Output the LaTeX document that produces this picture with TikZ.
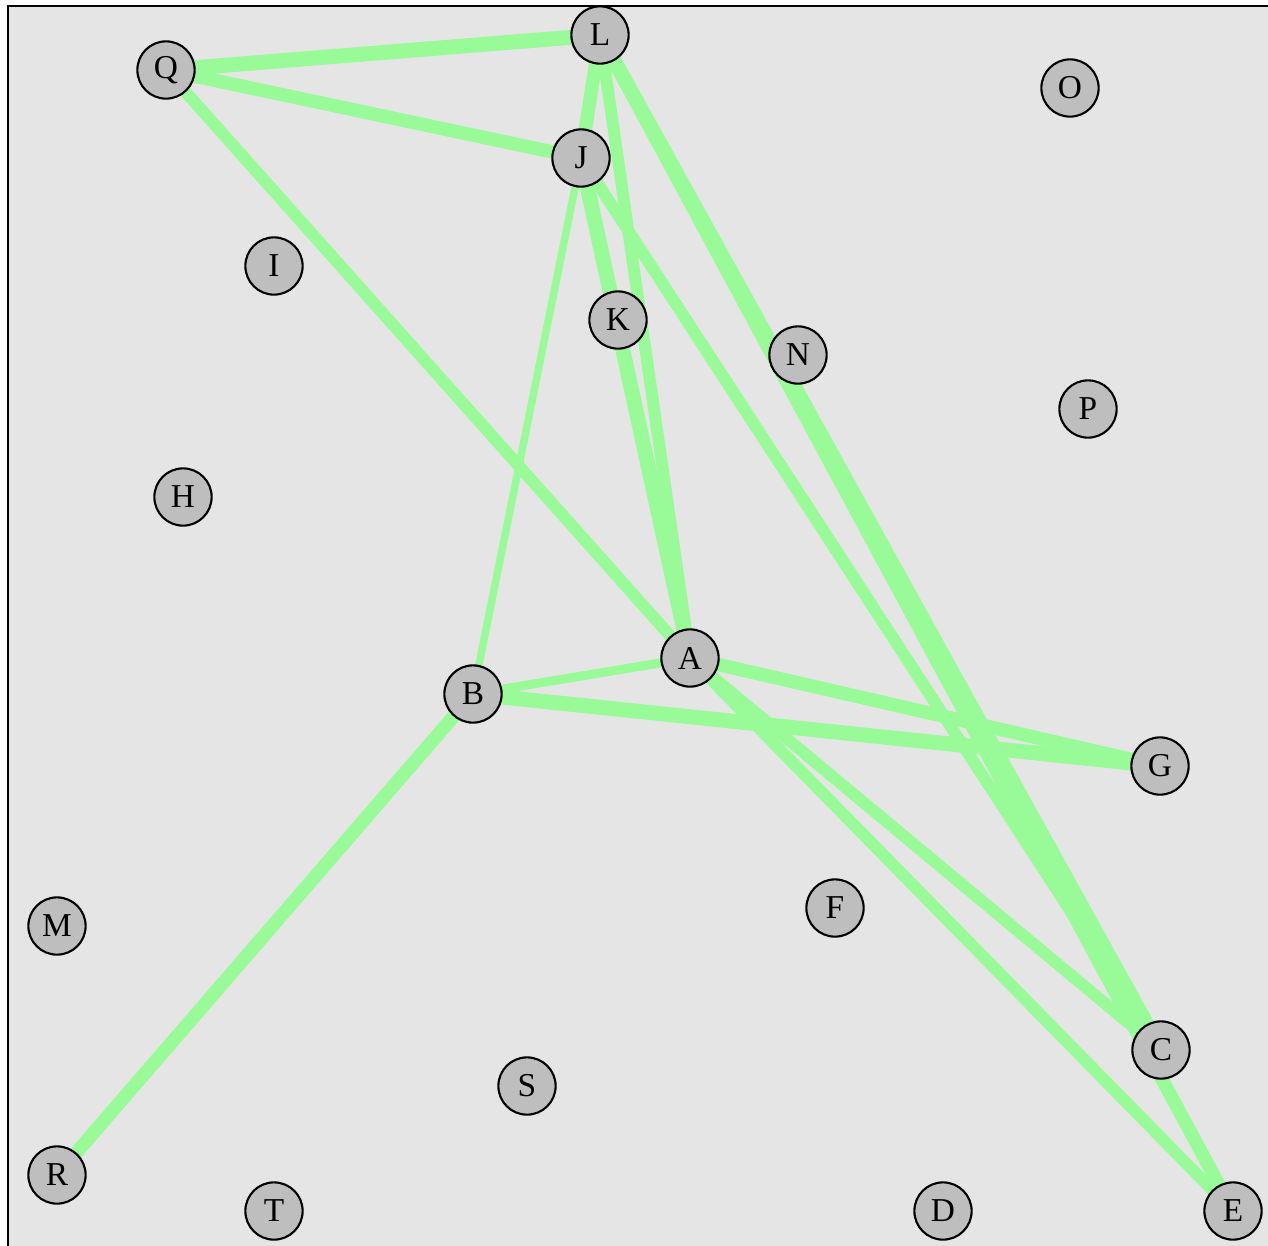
\documentclass[tikz,border=0pt]{standalone}
\usepackage{fontspec}
\setmainfont{Liberation Serif}
\definecolor{bgc}{HTML}{E5E5E5}
\definecolor{edgec}{HTML}{98FB98}
\definecolor{nodec}{HTML}{BEBEBE}
\pgfdeclarelayer{bg}
\pgfdeclarelayer{edges}
\pgfsetlayers{bg,edges,main}
\begin{document}
\begin{tikzpicture}[x=0.02cm,y=-0.02cm,
  vtx/.style={circle,draw=black,line width=1.2pt,fill=nodec,minimum size=32.6pt,inner sep=0pt,font=\fontsize{19pt}{21pt}\selectfont},
  lnk/.style={draw=edgec,line width=#1*0.85pt},
  lnk/.default=8]
\useasboundingbox (0,0) rectangle (1268,1245);
\begin{pgfonlayer}{bg}
\begin{scope}
\clip (0,0) rectangle (1268,1245);
\filldraw[fill=bgc,draw=black,line width=1.3pt] (8,6) rectangle (1290,1270);
\end{scope}
\end{pgfonlayer}
% nodes
\node[vtx] (Q) at (166,70) {Q};
\node[vtx] (L) at (600,35) {L};
\node[vtx] (O) at (1070,88) {O};
\node[vtx] (J) at (581,158) {J};
\node[vtx] (I) at (274,266) {I};
\node[vtx] (K) at (618,320) {K};
\node[vtx] (N) at (798,355) {N};
\node[vtx] (P) at (1088,409) {P};
\node[vtx] (H) at (183,497) {H};
\node[vtx] (A) at (690,658) {A};
\node[vtx] (B) at (473,694) {B};
\node[vtx] (G) at (1160,766) {G};
\node[vtx] (M) at (57,926) {M};
\node[vtx] (F) at (835,908) {F};
\node[vtx] (C) at (1161,1050) {C};
\node[vtx] (S) at (527,1086) {S};
\node[vtx] (R) at (57,1175) {R};
\node[vtx] (T) at (274,1211) {T};
\node[vtx] (D) at (943,1211) {D};
\node[vtx] (E) at (1233,1211) {E};
% edges (behind nodes)
\begin{pgfonlayer}{edges}
\draw[lnk=10] (Q.center) -- (L.center);
\draw[lnk=9] (Q.center) -- (J.center);
\draw[lnk=8] (Q.center) -- (A.center);
\draw[lnk=9] (L.center) -- (J.center);
\draw[lnk=8] (L.center) -- (A.center);
\draw[lnk=10] (L.center) -- (C.center);
\draw[lnk=9] (L.center) -- (E.center);
\draw[lnk=5] (J.center) -- (B.center);
\draw[lnk=10] (J.center) -- (A.center);
\draw[lnk=8] (J.center) -- (C.center);
\draw[lnk=6] (A.center) -- (B.center);
\draw[lnk=9] (A.center) -- (G.center);
\draw[lnk=8] (A.center) -- (C.center);
\draw[lnk=8] (A.center) -- (E.center);
\draw[lnk=10] (B.center) -- (G.center);
\draw[lnk=9] (B.center) -- (R.center);
\end{pgfonlayer}
\end{tikzpicture}
\end{document}
